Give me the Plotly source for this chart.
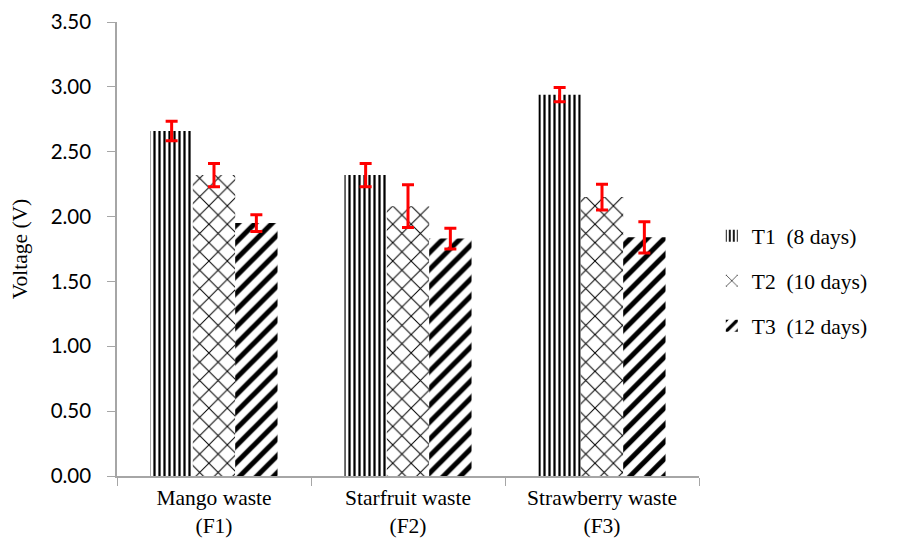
import plotly.graph_objects as go

categories = ["Mango waste<br>(F1)", "Starfruit waste<br>(F2)", "Strawberry waste<br>(F3)"]
series_names = ["T1&nbsp;&nbsp;(8 days)", "T2&nbsp;&nbsp;(10 days)", "T3&nbsp;&nbsp;(12 days)"]
t1_values = [2.66, 2.32, 2.94]
t2_values = [2.32, 2.08, 2.15]
t3_values = [1.95, 1.83, 1.84]
t1_err = [0.075, 0.09, 0.055]
t2_err = [0.09, 0.165, 0.10]
t3_err = [0.065, 0.08, 0.12]
y_ticks = [0, 0.5, 1.0, 1.5, 2.0, 2.5, 3.0, 3.5]

values = [t1_values, t2_values, t3_values]
errors = [t1_err, t2_err, t3_err]
patterns = [
    dict(shape="|", size=5, solidity=0.45, fgcolor="black", bgcolor="white", fillmode="overlay", fgopacity=1),
    dict(shape="x", size=13, solidity=0.15, fgcolor="black", bgcolor="white", fillmode="overlay", fgopacity=1),
    dict(shape="/", size=12, solidity=0.42, fgcolor="black", bgcolor="white", fillmode="overlay", fgopacity=1),
]

fig = go.Figure()
for i in range(3):
    fig.add_trace(go.Bar(
        x=categories, y=values[i], name=series_names[i],
        legendgroup=f"g{i}",
        marker=dict(color="white", pattern=patterns[i], line=dict(width=0)),
        error_y=dict(type="data", array=errors[i], color="#FF0000", thickness=3, width=6),
    ))

fig.update_layout(
    width=906, height=549,
    margin=dict(l=109, r=215, t=14, b=80.5, autoexpand=False),
    paper_bgcolor="white", plot_bgcolor="white",
    barmode="group", bargap=0.345, bargroupgap=0,
    showlegend=True,
    legend=dict(x=1.022, xanchor="left", y=0.43, yanchor="middle",
                font=dict(family="Liberation Serif", size=21.5, color="black"),
                tracegroupgap=14, itemwidth=30, bgcolor="rgba(0,0,0,0)"),
    font=dict(family="Liberation Serif", color="black"),
)
fig.update_yaxes(
    range=[0, 3.5], tickvals=y_ticks, tickformat=".2f",
    showgrid=False, zeroline=False, automargin=False, ticklabeloverflow="allow",
    showline=True, linecolor="#A6A6A6", linewidth=1.5,
    ticks="outside", ticklen=8, tickcolor="#A6A6A6", ticklabelstandoff=12,
    tickfont=dict(family="Lato", size=20.5, color="black"),
    title=dict(text="Voltage (V)", font=dict(family="Liberation Serif", size=21.5, color="black"), standoff=27),
)
fig.update_xaxes(
    showgrid=False, showline=True, linecolor="#A6A6A6", linewidth=1.5, automargin=False,
    ticklabeloverflow="allow",
    ticks="outside", ticklen=8, tickcolor="#A6A6A6", tickson="boundaries", ticklabelstandoff=1,
    tickfont=dict(family="Liberation Serif", size=21.5, color="black"),
)

fig.write_html("out.html")
